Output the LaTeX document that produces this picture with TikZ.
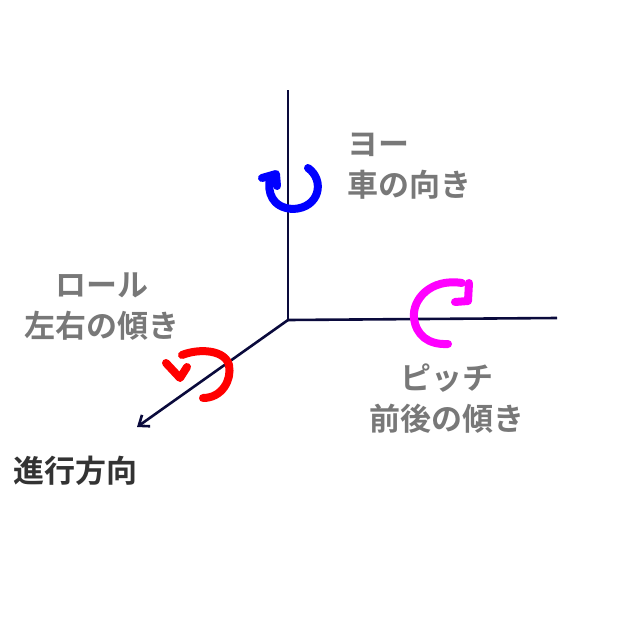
\documentclass[tikz,border=0pt]{standalone}
\usepackage{fontspec}
\setmainfont{Noto Sans CJK JP}[BoldFont={* Bold}]
\usetikzlibrary{arrows.meta}
\definecolor{axis}{RGB}{10,10,60}
\definecolor{lbl}{RGB}{120,120,120}
\definecolor{mag}{RGB}{255,0,255}
\tikzset{ax/.style={axis,line width=2.6pt},
rot/.style={line width=8pt,line cap=round,line join=round},
lab/.style={text=lbl,font=\fontsize{31}{41}\selectfont\bfseries,align=left,inner sep=0pt}}
\begin{document}
\begin{tikzpicture}[x=1pt,y=-1pt]
\useasboundingbox (0,0) rectangle (640,640);
\coordinate (o) at (288,320);
\coordinate (top) at (288,90);
\coordinate (right) at (557,318);
\coordinate (fwd) at (137,427);
\draw[ax] (o) -- (top);
\draw[ax] (o) -- (right);
\draw[ax,-{Straight Barb[length=9pt,width=14pt]}] (o) -- (fwd);
% yaw blue
\draw[rot,blue] (308,168) .. controls (325,180) and (320,208) .. (293,209) .. controls (272,208) and (267,192) .. (270,178);
\draw[rot,blue] (262,178) -- (276,174) -- (277,186);
% pitch magenta
\draw[rot,mag] (462,283) .. controls (430,278) and (412,300) .. (414,318) .. controls (416,335) and (428,345) .. (448,344);
\draw[rot,mag] (469,283) -- (468,301) -- (455,302);
% roll red
\draw[rot,red] (203,398) .. controls (222,398) and (232,380) .. (229,365) .. controls (225,350) and (200,348) .. (182,355);
\draw[rot,red] (166,363) -- (180,378) -- (187,367);
\node[lab,anchor=west] (yaw) at (347,166) {ヨー\\車の向き};
\node[lab,anchor=center,align=center] (roll) at (102,307) {ロール\\左右の傾き};
\node[lab,anchor=center,align=center] (pitch) at (447,399) {ピッチ\\前後の傾き};
\node[font=\fontsize{31}{38}\selectfont\bfseries,text=black!80,inner sep=0pt] (dir) at (75,471) {進行方向};
\end{tikzpicture}
\end{document}
